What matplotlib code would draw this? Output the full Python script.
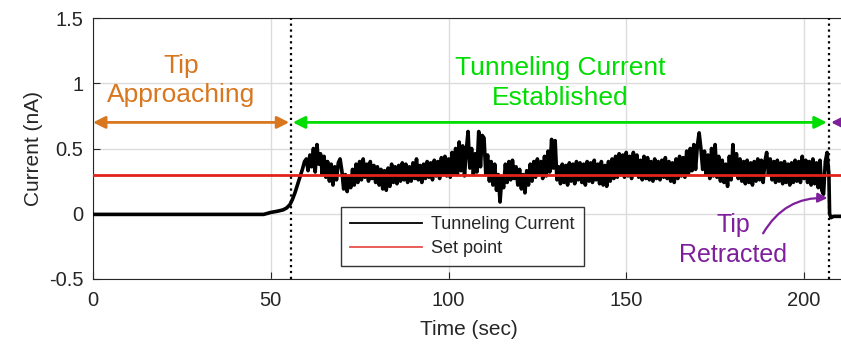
import numpy as np
import matplotlib
matplotlib.use("Agg")
import matplotlib.pyplot as plt
from matplotlib.lines import Line2D

plt.rcParams['font.family'] = ['Liberation Sans', 'DejaVu Sans']

# approach phase and ramp-up (sec, nA)
t_approach = [0, 48, 50, 52, 53.5, 54.5, 55.4, 56.1, 56.8, 57.5, 58.2, 58.9, 59.5]
i_approach = [-0.005, -0.005, 0.01, 0.02, 0.03, 0.045, 0.07, 0.11, 0.16, 0.22, 0.28, 0.34, 0.40]

# tunneling phase, sampled every 0.5 s from 60 s
t_tunnel_start = 60
i_tunnel = [
    0.42, 0.33, 0.45, 0.36, 0.50, 0.32, 0.53, 0.38, 0.46, 0.30, 0.44, 0.28, 0.40, 0.25, 0.38, 0.22, 0.36, 0.26, 0.39, 0.42,
    0.33, 0.19, 0.30, 0.17, 0.28, 0.20, 0.34, 0.22, 0.38, 0.24, 0.40, 0.26, 0.42, 0.28, 0.38, 0.25, 0.40, 0.27, 0.37, 0.24,
    0.36, 0.22, 0.34, 0.19, 0.33, 0.18, 0.35, 0.21, 0.38, 0.24, 0.36, 0.23, 0.37, 0.25, 0.39, 0.26, 0.38, 0.24, 0.36, 0.25,
    0.39, 0.27, 0.42, 0.26, 0.37, 0.24, 0.38, 0.27, 0.40, 0.28, 0.39, 0.26, 0.41, 0.29, 0.40, 0.27, 0.43, 0.30, 0.44, 0.29,
    0.42, 0.28, 0.47, 0.31, 0.50, 0.30, 0.55, 0.33, 0.52, 0.29, 0.48, 0.63, 0.35, 0.50, 0.30, 0.46, 0.32, 0.63, 0.36, 0.60,
    0.58, 0.30, 0.45, 0.25, 0.40, 0.22, 0.38, 0.18, 0.30, 0.09, 0.28, 0.20, 0.38, 0.24, 0.40, 0.26, 0.41, 0.27, 0.36, 0.22,
    0.34, 0.19, 0.30, 0.16, 0.33, 0.22, 0.38, 0.25, 0.40, 0.28, 0.42, 0.30, 0.40, 0.27, 0.44, 0.29, 0.48, 0.32, 0.57, 0.35,
    0.56, 0.26, 0.36, 0.23, 0.38, 0.24, 0.37, 0.22, 0.39, 0.25, 0.38, 0.23, 0.40, 0.26, 0.39, 0.24, 0.38, 0.22, 0.40, 0.25,
    0.39, 0.24, 0.41, 0.26, 0.38, 0.23, 0.40, 0.22, 0.37, 0.21, 0.40, 0.25, 0.42, 0.27, 0.44, 0.28, 0.46, 0.30, 0.45, 0.28,
    0.47, 0.29, 0.44, 0.27, 0.47, 0.30, 0.45, 0.28, 0.41, 0.26, 0.44, 0.27, 0.43, 0.26, 0.40, 0.25, 0.42, 0.27, 0.40, 0.26,
    0.41, 0.28, 0.43, 0.27, 0.40, 0.25, 0.39, 0.24, 0.42, 0.27, 0.44, 0.29, 0.43, 0.28, 0.48, 0.31, 0.50, 0.33, 0.53, 0.34,
    0.52, 0.62, 0.50, 0.34, 0.48, 0.30, 0.45, 0.27, 0.50, 0.29, 0.53, 0.28, 0.44, 0.25, 0.41, 0.24, 0.38, 0.21, 0.44, 0.26,
    0.53, 0.30, 0.46, 0.27, 0.42, 0.25, 0.40, 0.23, 0.41, 0.24, 0.39, 0.22, 0.40, 0.25, 0.42, 0.26, 0.41, 0.24, 0.40, 0.47,
    0.30, 0.42, 0.26, 0.40, 0.24, 0.41, 0.25, 0.39, 0.23, 0.40, 0.24, 0.38, 0.22, 0.39, 0.24, 0.41, 0.25, 0.40, 0.24, 0.44,
    0.27, 0.41, 0.24, 0.40, 0.22, 0.42, 0.23, 0.39, 0.20, 0.41, 0.18, 0.15, 0.40, 0.47,
]

# tip retracted
t_retract = [207.0, 207.2, 207.6, 208.3, 212]
i_retract = [0.30, 0.0, -0.03, -0.02, -0.02]

set_point = 0.3
t_approach_end = 55.7
t_retract_at = 207.0

t_tunnel = t_tunnel_start + 0.5 * np.arange(len(i_tunnel))
t_all = np.concatenate([t_approach, t_tunnel, t_retract])
i_all = np.concatenate([i_approach, i_tunnel, i_retract])

fig = plt.figure(figsize=(8.41, 3.46), dpi=100)
ax = fig.add_axes([93 / 841, 67 / 346, 751 / 841, 261 / 346])

txt = '#262626'
orange = '#D9771F'
green = '#00DD00'
purple = '#7E1F9C'

ax.grid(True, color='#DCDCDC', lw=1)
ax.set_axisbelow(True)

ax.plot(t_all, i_all, color='black', lw=2.6, zorder=3)
ax.axhline(set_point, color='#E2231A', lw=2, zorder=4)

ax.axvline(t_approach_end, color='black', ls=':', lw=1.6, zorder=5)
ax.axvline(t_retract_at, color='black', ls=':', lw=1.6, zorder=5)

ax.set_xlim(0, 751 / 3.555)
ax.set_ylim(-0.5, 1.5)
ax.set_xticks([0, 50, 100, 150, 200])
ax.set_yticks([-0.5, 0, 0.5, 1, 1.5])
ax.set_yticklabels(['-0.5', '0', '0.5', '1', '1.5'])
ax.tick_params(direction='in', length=5, labelsize=14.5, colors=txt)
ax.tick_params(axis='x', pad=9)
ax.tick_params(axis='y', pad=7)
ax.set_xlabel('Time (sec)', fontsize=15, color=txt, labelpad=7)
ax.set_ylabel('Current (nA)', fontsize=15, color=txt, labelpad=4)
for s in ['left', 'top', 'bottom']:
    ax.spines[s].set_color(txt)
ax.spines['right'].set_visible(False)

# phase arrows
ax.annotate('', xy=(0, 0.7), xytext=(55.2, 0.7),
            arrowprops=dict(arrowstyle='<|-|>', color=orange, lw=2,
                            mutation_scale=18, shrinkA=0, shrinkB=0))
ax.annotate('', xy=(56.2, 0.7), xytext=(206.4, 0.7),
            arrowprops=dict(arrowstyle='<|-|>', color=green, lw=2,
                            mutation_scale=18, shrinkA=0, shrinkB=0))
ax.annotate('', xy=(207.6, 0.7), xytext=(216, 0.7), annotation_clip=False,
            arrowprops=dict(arrowstyle='<|-|>', color=purple, lw=2,
                            mutation_scale=18, shrinkA=0, shrinkB=0))

ax.text(24.8, 1.02, 'Tip\nApproaching', color=orange, fontsize=19,
        ha='center', va='center', linespacing=1.3)
ax.text(131.4, 1.0, 'Tunneling Current\nEstablished', color=green, fontsize=19,
        ha='center', va='center', linespacing=1.3)
ax.text(180.0, -0.2, 'Tip\nRetracted', color=purple, fontsize=18,
        ha='center', va='center', linespacing=1.3)
ax.annotate('', xy=(206.6, 0.12), xytext=(188.5, -0.15),
            arrowprops=dict(arrowstyle='-|>', color=purple, lw=1.6,
                            mutation_scale=14, shrinkA=0, shrinkB=0,
                            connectionstyle='arc3,rad=-0.3'))

handles = [Line2D([], [], color='black', lw=1.3),
           Line2D([], [], color='#E8504A', lw=1.3)]
leg = ax.legend(handles, ['Tunneling Current', 'Set point'],
                loc='upper left', bbox_to_anchor=(0.33, 0.276), fontsize=13,
                handlelength=4.0, frameon=True, fancybox=False, borderpad=0.5,
                labelspacing=0.4, borderaxespad=0, handletextpad=0.5)
leg.get_frame().set_edgecolor('black')
leg.get_frame().set_linewidth(1)
for t in leg.get_texts():
    t.set_color(txt)

fig.savefig('out.png', dpi=100)
